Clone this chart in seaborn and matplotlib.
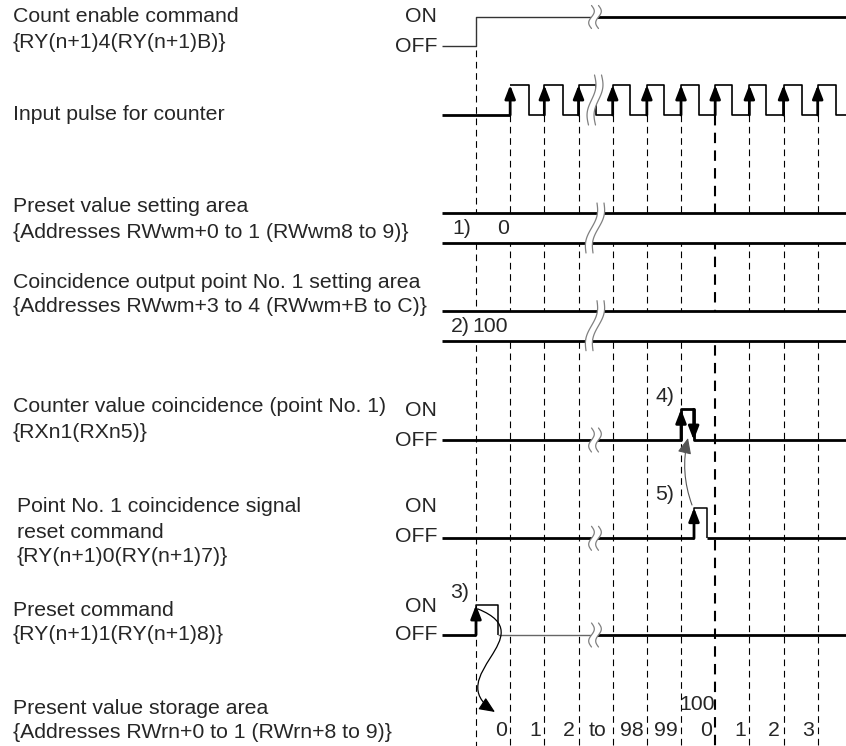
import numpy as np
import matplotlib
matplotlib.use("Agg")
import matplotlib.pyplot as plt
from matplotlib.path import Path
from matplotlib.patches import FancyArrowPatch, Rectangle, Polygon
import seaborn as sns

# ---------------- data ----------------
periods = list(range(11))                # dashed clock lines
thick_period = 7                         # wrap-around point (bold dashed)
pulse_rise = [1, 2, 3, 4, 5, 6, 7, 8, 9, 10]
pulse_fall = [1.55, 2.54, np.nan, 4.51, 5.51, 6.53, 7.50, 8.50, 9.53, 10.54]
enable_times, enable_states = [-1.0, 0.0], [0, 1]
coin_times, coin_states = [-1.0, 6.0, 6.37], [0, 1, 0]
reset_times, reset_states = [-1.0, 6.38, 6.77], [0, 1, 0]
preset_times, preset_states = [-1.0, 0.0, 0.65], [0, 1, 0]
preset_area_text = ["1)", "0"]
coin_area_text = ["2)", "100"]
value_labels = ["0", "1", "2", "to", "98", "99", "0", "1", "2", "3"]
value_periods = [1, 2, 3, 3.55, 5, 6, 7, 8, 9, 10]
wrap_label = "100"
break_t = 3.5

signal_names = [
    ["Count enable command", "{RY(n+1)4(RY(n+1)B)}"],
    ["Input pulse for counter"],
    ["Preset value setting area", "{Addresses RWwm+0 to 1 (RWwm8 to 9)}"],
    ["Coincidence output point No. 1 setting area", "{Addresses RWwm+3 to 4 (RWwm+B to C)}"],
    ["Counter value coincidence (point No. 1)", "{RXn1(RXn5)}"],
    ["Point No. 1 coincidence signal", "reset command", "{RY(n+1)0(RY(n+1)7)}"],
    ["Preset command", "{RY(n+1)1(RY(n+1)8)}"],
    ["Present value storage area", "{Addresses RWrn+0 to 1 (RWrn+8 to 9)}"],
]

# ---------------- layout ----------------
W, H = 846, 746
PX0, PXP = 476.0, 34.17
def tx(p):  # pixel x -> time units
    return (p - PX0) / PXP
T_START, T_END = -1.0, tx(W)
ROW = {"enable": (17, 46), "pulse": (85, 115), "pv": (213.3, 242.7),
       "cp": (310.7, 340.7), "coin": (409.3, 440), "reset": (507.7, 538.3),
       "preset": (605, 635)}
FS = 15.3

sns.set_theme(style="white")
plt.rcParams["font.family"] = ["Liberation Sans", "DejaVu Sans"]

fig = plt.figure(figsize=(W / 100, H / 100), dpi=100)
ax = fig.add_axes([0, 0, 1, 1])


def lvl(row, s):
    return ROW[row][0] if s else ROW[row][1]


def steps(times, states, row, t_end=T_END):
    xs, ys = [], []
    prev = None
    for i, (t, s) in enumerate(zip(times, states)):
        if i > 0:
            xs.append(t); ys.append(lvl(row, prev))
        xs.append(t); ys.append(lvl(row, s))
        prev = s
    xs.append(t_end); ys.append(lvl(row, prev))
    return xs, ys


def line(xs, ys, lw=2.0, color="black", z=3):
    sns.lineplot(x=np.asarray(xs, float), y=np.asarray(ys, float), sort=False,
                 estimator=None, ax=ax, color=color, lw=lw, zorder=z,
                 legend=False, solid_capstyle="butt")


def edge_arrow(t, y0, y1):
    ax.annotate("", xy=(t, y1), xytext=(t, y0),
                arrowprops=dict(arrowstyle="-|>,head_length=0.85,head_width=0.33",
                                lw=2.0, color="black", shrinkA=0, shrinkB=0,
                                mutation_scale=9.5), zorder=6)


def draw_break(yc, half_h, tilt=0.0, amp=2.8, gap=7.0):
    s = np.linspace(0, 1, 80)
    y = yc - half_h + 2 * half_h * s
    off = amp * np.sin(2 * np.pi * s) + tilt * (0.5 - s)
    xl = tx(595 - gap / 2 + off)
    xr = tx(595 + gap / 2 + off)
    poly = np.column_stack([np.r_[xl, xr[::-1]], np.r_[y, y[::-1]]])
    ax.add_patch(Polygon(poly, closed=True, fc="white", ec="none", zorder=7))
    ax.plot(xl, y, color="#808080", lw=0.9, zorder=8)
    ax.plot(xr, y, color="#808080", lw=0.9, zorder=8)


# dashed clock lines
for p in periods:
    top = ROW["enable"][1] + 4 if p == 0 else ROW["pulse"][1]
    bold = p == thick_period
    ax.vlines(p, top, H, colors="black", lw=1.5 if bold else 0.8,
              linestyles=(0, (5, 3.5)) if bold else (0, (6, 4.2)), zorder=1)

# Count enable
xs, ys = steps(enable_times, enable_states, "enable")
line([xs[0], xs[1], xs[2], break_t], [ys[0], ys[1], ys[2], ys[2]], lw=1.0, color="#333333")
line([break_t, T_END], [ys[2], ys[2]], lw=2.0)
draw_break(ROW["enable"][0], 11.5)

# Input pulse
hi, lo = ROW["pulse"]
line([T_START, pulse_rise[0]], [lo, lo], lw=2.0)
px_, py_ = [], []
for r, f, nr in zip(pulse_rise, pulse_fall, pulse_rise[1:] + [T_END]):
    f = break_t if np.isnan(f) else f
    px_ += [r, f, f, nr]
    py_ += [hi, hi, lo, lo]
line(px_, py_, lw=1.2)
for r in pulse_rise:
    edge_arrow(r, lo, hi)
draw_break(100, 25, tilt=6)

# Setting areas
for key, texts, xpos in [("pv", preset_area_text, [461.7, 503.3]),
                         ("cp", coin_area_text, [460.0, 490.5])]:
    a, b = ROW[key]
    ax.add_patch(Rectangle((T_START, a), T_END - T_START, b - a, fc="white", ec="none", zorder=2))
    line([T_START, T_END], [a, a], lw=2.0)
    line([T_START, T_END], [b, b], lw=2.0)
    for txt, xp in zip(texts, xpos):
        ax.text(tx(xp), (a + b) / 2 + 1, txt, fontsize=FS, ha="center", va="center", zorder=4)
    draw_break((a + b) / 2, 25, tilt=11)

# Counter value coincidence
xs, ys = steps(coin_times, coin_states, "coin")
line(xs, ys, lw=2.0)
edge_arrow(coin_times[1], lvl("coin", 0), lvl("coin", 1))
edge_arrow(coin_times[2], lvl("coin", 1), lvl("coin", 0))
draw_break(ROW["coin"][1], 12)

# Reset command
xs, ys = steps(reset_times, reset_states, "reset")
line(xs[:2], ys[:2], lw=2.0)
line(xs[1:5], ys[1:5], lw=1.1)
line(xs[4:], ys[4:], lw=2.0)
edge_arrow(reset_times[1], lvl("reset", 0), lvl("reset", 1))
draw_break(ROW["reset"][1], 12)

# Preset command
xs, ys = steps(preset_times, preset_states, "preset")
line(xs[:2], ys[:2], lw=2.0)
line(xs[1:5], ys[1:5], lw=1.1)
line([xs[4], break_t], [ys[4], ys[4]], lw=1.0, color="#666666")
line([break_t, T_END], [ys[4], ys[4]], lw=2.0)
edge_arrow(preset_times[1], lvl("preset", 0), lvl("preset", 1))
draw_break(ROW["preset"][1], 12)

# annotation numbers
for txt, xp, yp in [("3)", 460, 592), ("4)", 665, 396), ("5)", 665, 495)]:
    ax.text(tx(xp), yp, txt, fontsize=FS, ha="center", va="center", zorder=9)

# curved arrow 3)
verts = [(tx(478), 609), (tx(545), 636), (tx(440), 676), (tx(495), 712)]
path = Path(verts, [Path.MOVETO, Path.CURVE4, Path.CURVE4, Path.CURVE4])
ax.add_patch(FancyArrowPatch(path=path, arrowstyle="-|>,head_length=0.8,head_width=0.35",
                             mutation_scale=12, lw=0.9, color="black", zorder=6))
# curved arrow 5)
ax.add_patch(FancyArrowPatch((tx(692), 505), (tx(688), 438),
                             connectionstyle="arc3,rad=-0.15",
                             arrowstyle="-|>,head_length=0.8,head_width=0.35",
                             mutation_scale=12, lw=0.8, color="#555555",
                             shrinkA=0, shrinkB=0, zorder=6))

# present values
for lab, p in zip(value_labels, value_periods):
    if lab == "to":
        ax.text(p, 730, lab, fontsize=FS, ha="center", va="center", zorder=4)
    else:
        ax.text(p - 0.1, 730, lab, fontsize=FS, ha="right", va="center", zorder=4)
ax.text(tx(697), 705, wrap_label, fontsize=FS, ha="center", va="center", zorder=4)

# left labels
label_y = [[17, 43], [115], [207, 232], [283, 307], [407, 433], [506, 532, 557],
           [610, 635], [708, 733]]
for lines_, ys_ in zip(signal_names, label_y):
    for s, y in zip(lines_, ys_):
        xoff = 17 if lines_[0].startswith("Point") else 13
        ax.text(tx(xoff), y, s, fontsize=FS, ha="left", va="center")

# ON / OFF labels
for row, yon, yoff in [("enable", 17, 47), ("coin", 410, 440), ("reset", 507, 537),
                       ("preset", 606, 635)]:
    ax.text(tx(437), yon, "ON", fontsize=FS, ha="right", va="center")
    ax.text(tx(437), yoff, "OFF", fontsize=FS, ha="right", va="center")

ax.set_xlim(tx(0), tx(W))
ax.set_ylim(H, 0)
ax.axis("off")
fig.savefig("out.png", dpi=100)
